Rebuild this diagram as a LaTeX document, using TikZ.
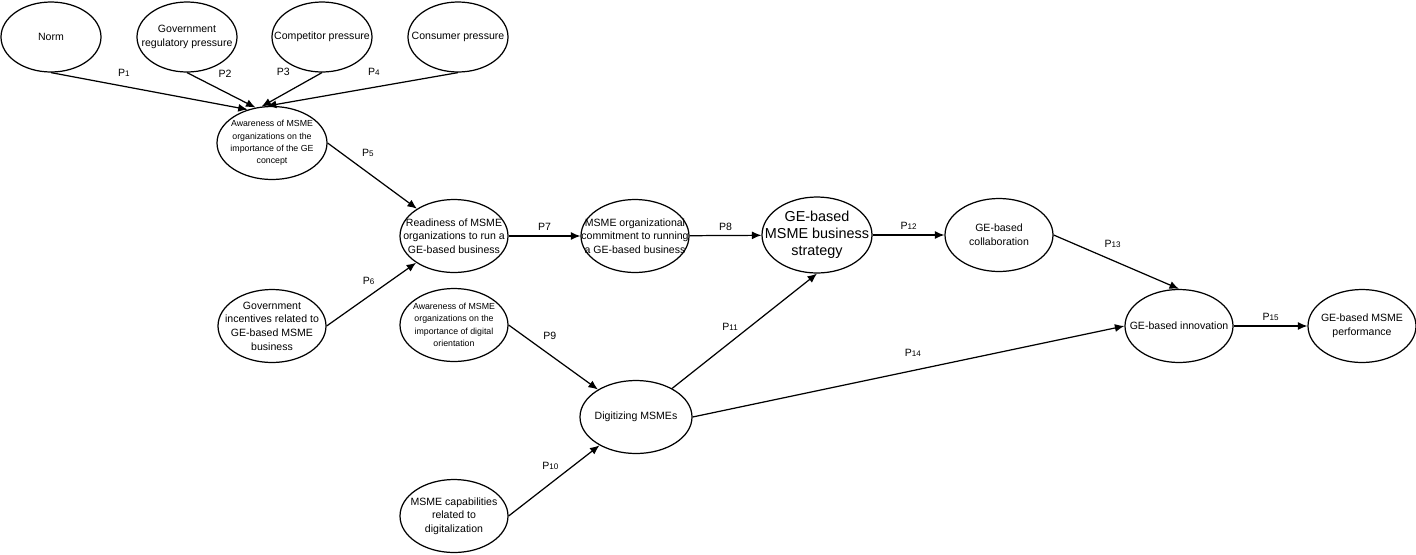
\documentclass[tikz,border=0pt]{standalone}
\usepackage{fontspec}
\setmainfont{Liberation Sans}
\usetikzlibrary{shapes.geometric,arrows.meta}
\newcommand{\ptag}[1]{P{\fontsize{4.6}{5}\selectfont #1}}
\tikzset{
  construct/.style={draw, ellipse, line width=0.7pt, inner sep=-10pt, minimum width=2.16cm, minimum height=1.46cm, align=center, font=\fontsize{6}{7.8}\selectfont},
  topconstruct/.style={construct, minimum width=2.0cm, minimum height=1.4cm},
  smalltext/.style={font=\fontsize{5}{7}\selectfont},
  bigtext/.style={font=\fontsize{8.2}{9.8}\selectfont},
  linkarrow/.style={-{Latex[length=1.9mm, width=1.6mm]}, line width=0.7pt},
  plabel/.style={font=\fontsize{6}{7}\selectfont, inner sep=0pt}
}

\begin{document}
\begin{tikzpicture}
  \useasboundingbox (0,0) rectangle (28.32,-11.08);
  % antecedents of awareness
  \node[topconstruct] (norm) at (1.02,-0.74) {Norm};
  \node[topconstruct] (govreg) at (3.74,-0.74) {Government\\ regulatory pressure};
  \node[topconstruct] (comp) at (6.44,-0.74) {Competitor pressure};
  \node[topconstruct] (cons) at (9.16,-0.74) {Consumer pressure};
  \node[construct, smalltext, minimum width=2.2cm] (aw) at (5.44,-2.86) {Awareness of MSME\\ organizations on the\\ importance of the GE\\ concept};
  % main chain
  \node[construct] (ready) at (9.08,-4.72) {Readiness of MSME\\ organizations to run a\\ GE-based business};
  \node[construct] (commit) at (12.70,-4.72) {MSME organizational\\ commitment to running\\ a GE-based business};
  \node[construct, bigtext, minimum width=2.2cm, minimum height=1.52cm] (strat) at (16.34,-4.70) {GE-based\\ MSME business\\ strategy};
  \node[construct] (collab) at (19.98,-4.70) {GE-based\\ collaboration};
  \node[construct] (govinc) at (5.44,-6.52) {Government\\ incentives related to\\ GE-based MSME\\ business};
  % digital side
  \node[construct, smalltext] (digaw) at (9.08,-6.50) {Awareness of MSME\\ organizations on the\\ importance of digital\\ orientation};
  \node[construct, minimum width=2.24cm] (digit) at (12.72,-8.34) {Digitizing MSMEs};
  \node[construct] (cap) at (9.08,-10.32) {MSME capabilities\\ related to\\ digitalization};
  \node[construct] (innov) at (23.58,-6.52) {GE-based innovation};
  \node[construct] (perf) at (27.24,-6.52) {GE-based MSME\\ performance};

  \draw[linkarrow] (norm.south) -- node[plabel, pos=.37, yshift=.26cm] {\ptag{1}} (aw.126);
  \draw[linkarrow] (govreg.south) -- node[plabel, pos=.54, xshift=.02cm, yshift=.36cm] {P2} (aw.115);
  \draw[linkarrow] (comp.south) -- node[plabel, pos=.64, yshift=.44cm] {P3} (aw.106);
  \draw[linkarrow] (cons.south) -- node[plabel, pos=.44, yshift=.3cm] {\ptag{4}} (aw.98);
  \draw[linkarrow] (aw.east) -- node[plabel, pos=.45, yshift=.39cm] {\ptag{5}} (ready);
  \draw[linkarrow] (govinc.east) -- node[plabel, pos=.47, yshift=.3cm] {\ptag{6}} (ready);
  \draw[linkarrow] (ready) -- node[plabel, midway, yshift=.18cm] {P7} (commit);
  \draw[linkarrow] (commit) -- node[plabel, midway, yshift=.18cm] {P8} (strat);
  \draw[linkarrow] (digaw.east) -- node[plabel, pos=.46, yshift=.38cm] {P9} (digit);
  \draw[linkarrow] (cap.east) -- node[plabel, pos=.46, yshift=.36cm] {\ptag{10}} (digit);
  \draw[linkarrow] (digit) -- node[plabel, pos=.4, yshift=.32cm] {\ptag{11}} (strat.south);
  \draw[linkarrow] (strat) -- node[plabel, midway, yshift=.18cm] {\ptag{12}} (collab);
  \draw[linkarrow] (collab.east) -- node[plabel, pos=.47, yshift=.32cm] {\ptag{13}} (innov.north);
  \draw[linkarrow] (digit.east) -- node[plabel, pos=.51, yshift=.36cm] {\ptag{14}} (innov.west);
  \draw[linkarrow] (innov) -- node[plabel, midway, yshift=.18cm] {\ptag{15}} (perf);
\end{tikzpicture}
\end{document}
